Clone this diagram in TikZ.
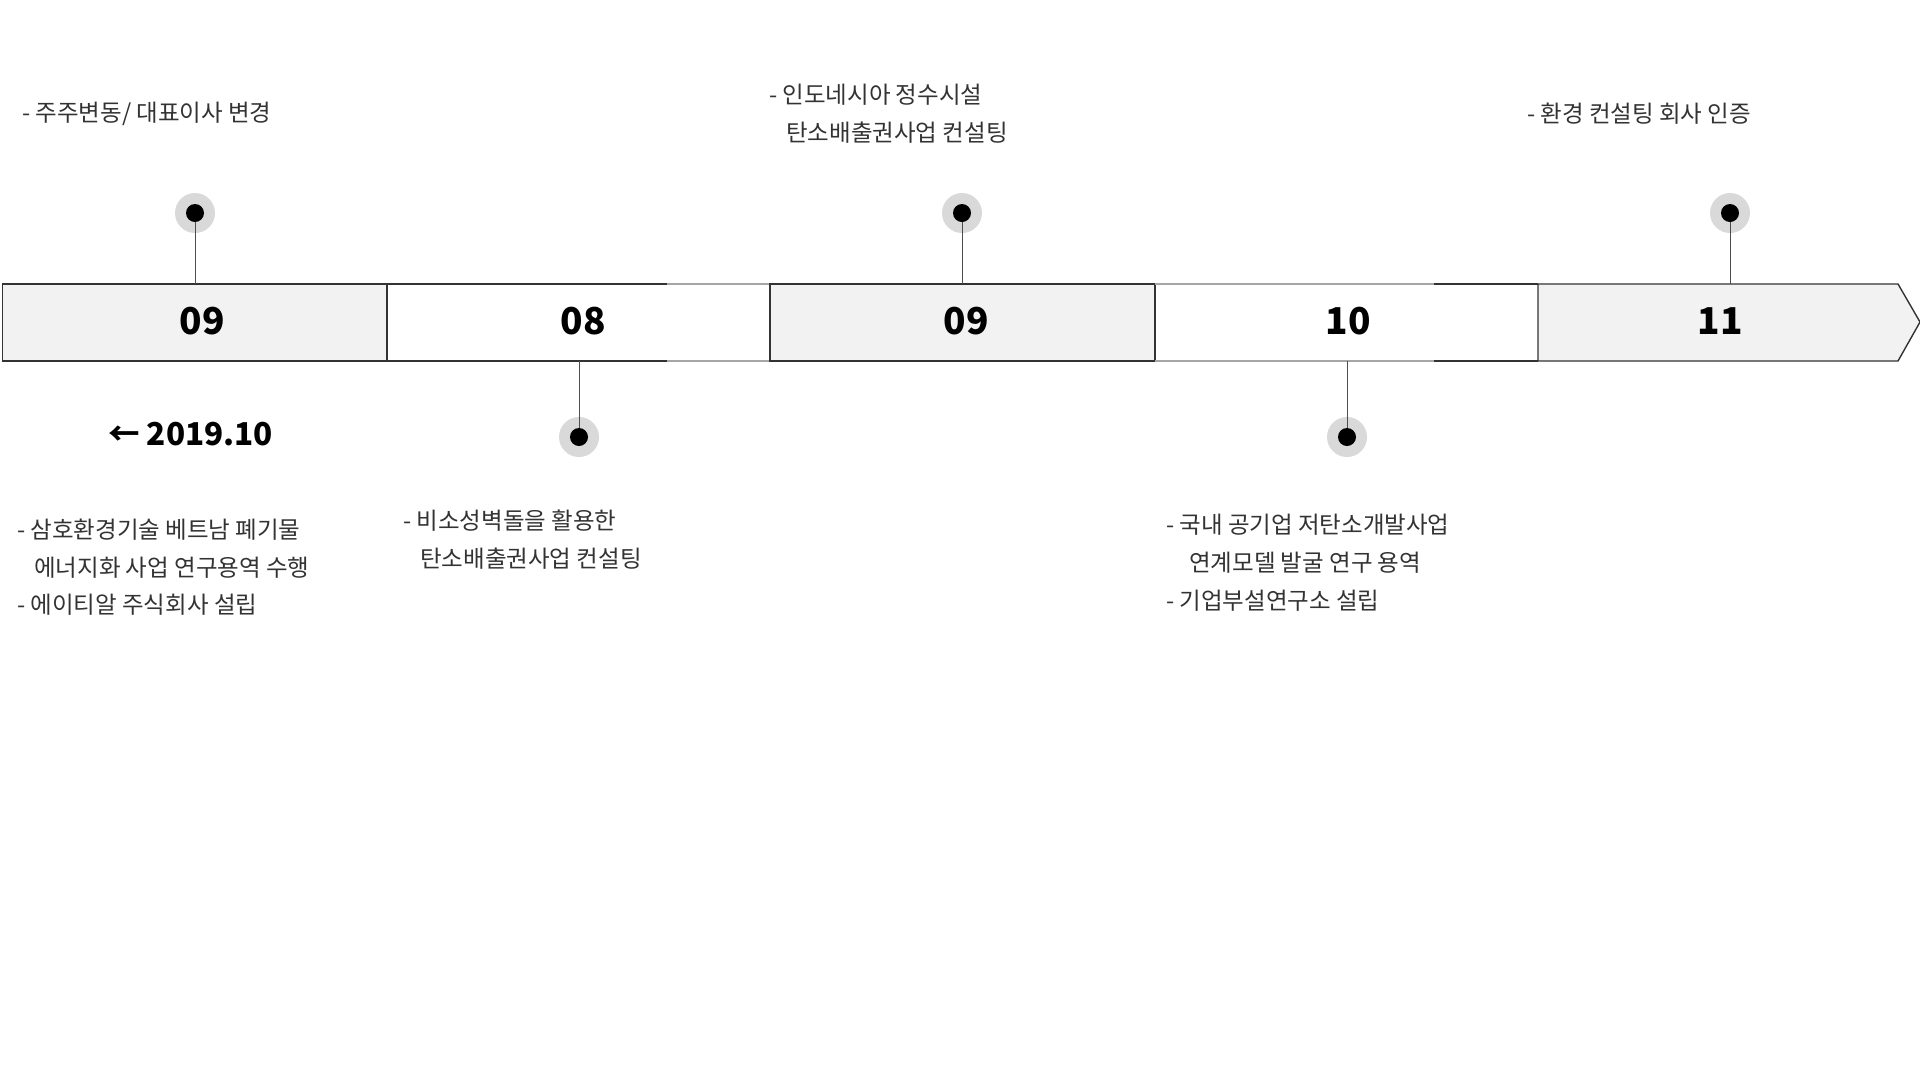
\documentclass[tikz,border=0pt]{standalone}
\usepackage{fontspec}
\setmainfont{Noto Sans CJK KR}
\begin{document}
\begin{tikzpicture}[x=1pt,y=-1pt,
  barline/.style={draw=black!80, line width=1.4pt},
  lightline/.style={draw=black!35, line width=1.4pt},
  segfill/.style={fill=black!5},
  num/.style={font=\fontsize{37}{40}\selectfont\bfseries, text=black, inner sep=0},
  pinhalo/.style={circle, fill=black!15, minimum size=40pt, inner sep=0},
  pindot/.style={circle, fill=black, minimum size=18pt, inner sep=0},
  stem/.style={draw=black!70, line width=1pt},
  note/.style={font=\fontsize{23.5}{38}\selectfont, text=black!80, anchor=west, inner sep=0},
  datelbl/.style={font=\fontsize{31.5}{36}\selectfont\bfseries, text=black, anchor=west, inner sep=0}]
\useasboundingbox (0,0) rectangle (1920,1080);
\fill[white] (0,0) rectangle (1920,1080);

% bar segments
\path[segfill] (2.5,284) rectangle (387,361);
\path[segfill] (770,284) rectangle (1155,361);
\path[segfill] (1538,284) -- (1898,284) -- (1920,322) -- (1898,361) -- (1538,361) -- cycle;
\draw[barline] (2.5,284) rectangle (387,361);
\draw[barline] (387,284) -- (667,284);
\draw[barline] (387,361) -- (667,361);
\draw[lightline] (667,284) -- (770,284);
\draw[lightline] (667,361) -- (770,361);
\draw[barline] (770,284) rectangle (1155,361);
\draw[lightline] (1155,284) -- (1434,284);
\draw[lightline] (1155,361) -- (1434,361);
\draw[barline] (1434,284) -- (1538,284);
\draw[barline] (1434,361) -- (1538,361);
\draw[barline, line join=miter] (1538,284) -- (1898,284) -- (1920,322) -- (1898,361) -- (1538,361) -- cycle;

% numbers
\node[num] (n1) at (202,321) {09};
\node[num] (n2) at (583,321) {08};
\node[num] (n3) at (966,321) {09};
\node[num] (n4) at (1348,321) {10};
\node[num] (n5) at (1720,321) {11};

% top pins
\coordinate (b1) at (195,284);
\coordinate (b3) at (962,284);
\coordinate (b5) at (1730,284);
\node[pinhalo] (h1) at (195,213) {};
\node[pinhalo] (h3) at (962,213) {};
\node[pinhalo] (h5) at (1730,213) {};
\draw[stem] (h1.center) -- (b1);
\draw[stem] (h3.center) -- (b3);
\draw[stem] (h5.center) -- (b5);
\node[pindot] (d1) at (h1) {};
\node[pindot] (d3) at (h3) {};
\node[pindot] (d5) at (h5) {};

% bottom pins
\coordinate (b2) at (579,361);
\coordinate (b4) at (1347,361);
\node[pinhalo] (h2) at (579,437) {};
\node[pinhalo] (h4) at (1347,437) {};
\draw[stem] (h2.center) -- (b2);
\draw[stem] (h4.center) -- (b4);
\node[pindot] (d2) at (h2) {};
\node[pindot] (d4) at (h4) {};

% top texts
\node[note] (t1) at (22,113.5) {- 주주변동/ 대표이사 변경};
\node[note] (t3a) at (769,94.5) {- 인도네시아 정수시설};
\node[note] (t3b) at (786,132.5) {탄소배출권사업 컨설팅};
\node[note] (t5) at (1527,113.5) {- 환경 컨설팅 회사 인증};

% date
\node[datelbl] (dt) at (108,434) {← 2019.10};

% bottom texts
\node[note] (a1) at (17,529.5) {- 삼호환경기술 베트남 폐기물};
\node[note] (a2) at (34,567.5) {에너지화 사업 연구용역 수행};
\node[note] (a3) at (17,604.5) {- 에이티알 주식회사 설립};
\node[note] (c1) at (403,520.5) {- 비소성벽돌을 활용한};
\node[note] (c2) at (420,558.5) {탄소배출권사업 컨설팅};
\node[note] (e1) at (1166,524.5) {- 국내 공기업 저탄소개발사업};
\node[note] (e2) at (1189,562.5) {연계모델 발굴 연구 용역};
\node[note] (e3) at (1166,600.5) {- 기업부설연구소 설립};
\end{tikzpicture}
\end{document}
